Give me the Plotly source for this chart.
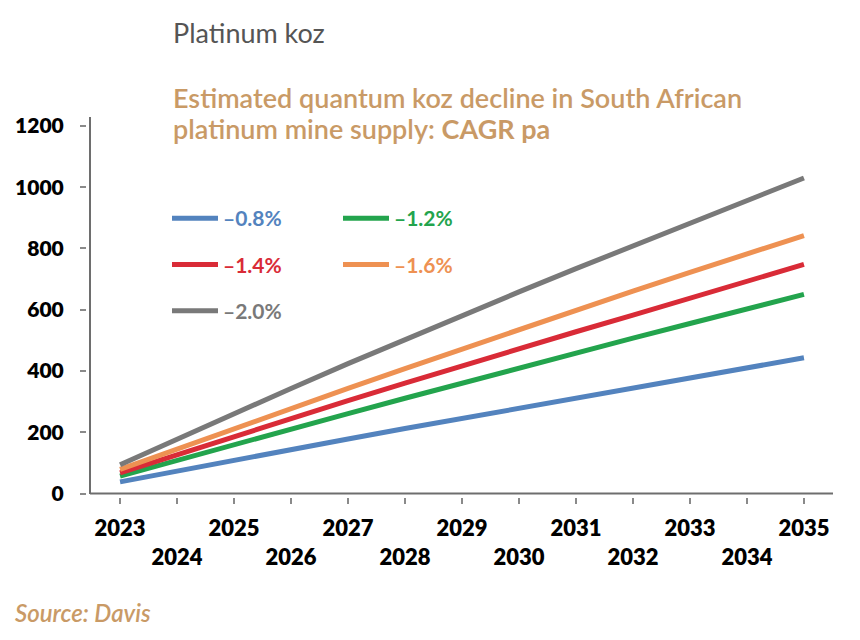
import plotly.graph_objects as go

years = [2023, 2024, 2025, 2026, 2027, 2028, 2029, 2030, 2031, 2032, 2033, 2034, 2035]
tick_labels = ["2023", "<br>2024", "2025", "<br>2026", "2027", "<br>2028", "2029",
               "<br>2030", "2031", "<br>2032", "2033", "<br>2034", "2035"]
y_ticks = [0, 200, 400, 600, 800, 1000, 1200]

series_names = ["–0.8%", "–1.2%", "–1.4%", "–1.6%", "–2.0%"]
v_08 = [38, 74, 109, 144, 178, 212, 245, 278, 311, 344, 377, 410, 443]
v_12 = [57, 109, 160, 211, 261, 311, 361, 410, 459, 507, 555, 602, 650]
v_14 = [67, 127, 186, 245, 303, 360, 417, 473, 528, 582, 636, 692, 748]
v_16 = [79, 146, 212, 278, 343, 408, 472, 536, 599, 661, 722, 782, 842]
v_20 = [94, 178, 261, 343, 424, 503, 581, 658, 734, 809, 883, 956, 1030]
series_values = [v_08, v_12, v_14, v_16, v_20]
colors = ["#5383BE", "#23A44D", "#D92B37", "#EE9152", "#797979"]
legend_of = ["legend", "legend2", "legend", "legend2", "legend"]

TAN = "#C99A66"
FONT = "Lato"

fig = go.Figure()
for name, vals, col, lg in zip(series_names, series_values, colors, legend_of):
    fig.add_trace(go.Scatter(
        x=years, y=vals, mode="lines",
        line=dict(color=col, width=5),
        name=f"<span style='color:{col}'><b>{name}</b></span>",
        legend=lg, legendgroup=name,
    ))

W, H = 860, 640
L, R, T, B = 87, 27, 117, 143
pw = W - L - R
ph = H - T - B

def px_x(p):
    return (p - L) / pw

def px_y(p):
    return (H - B - p) / ph

axis_col = "#6E6E6E"
tick_col = "#8A8A8A"

fig.update_layout(
    width=W, height=H,
    margin=dict(l=L, r=R, t=T, b=B),
    plot_bgcolor="white", paper_bgcolor="white",
    font=dict(family=FONT, color="black"),
    xaxis=dict(
        range=[2022.42, 2035.51], tickmode="array", tickvals=years, ticktext=tick_labels,
        ticks="outside", ticklen=6, tickwidth=2, tickcolor=tick_col,
        showline=False, showgrid=False, zeroline=False, ticklabelstandoff=6,
        tickfont=dict(family=FONT, size=22, color="black", weight=800),
    ),
    xaxis2=dict(
        range=[2022.42, 2035.51], overlaying="x", anchor="y", side="bottom",
        tickmode="array", tickvals=years[1::2], ticks="outside", ticklen=13,
        tickwidth=2, tickcolor=tick_col, showticklabels=False,
        showline=False, showgrid=False, zeroline=False,
    ),
    yaxis=dict(
        range=[-11.4, 1229], tickmode="array", tickvals=y_ticks,
        ticks="outside", ticklen=6, tickwidth=2, tickcolor=tick_col,
        showline=False, showgrid=False, zeroline=False,
        ticklabelstandoff=12,
        tickfont=dict(family=FONT, size=21, color="black", weight=800),
    ),
    legend=dict(
        x=px_x(167), y=px_y(198), xanchor="left", yanchor="top",
        orientation="v", itemwidth=46, tracegroupgap=16,
        font=dict(family=FONT, size=21), bgcolor="rgba(0,0,0,0)",
    ),
    legend2=dict(
        x=px_x(338), y=px_y(198), xanchor="left", yanchor="top",
        orientation="v", itemwidth=46, tracegroupgap=16,
        font=dict(family=FONT, size=21), bgcolor="rgba(0,0,0,0)",
    ),
    shapes=[
        dict(type="line", xref="paper", yref="y", x0=px_x(90), x1=px_x(833), y0=0, y1=0,
             line=dict(color=axis_col, width=2)),
        dict(type="line", xref="paper", yref="paper", x0=px_x(90), x1=px_x(90),
             y0=px_y(494), y1=1, line=dict(color=axis_col, width=2)),
    ],
    annotations=[
        dict(text="Platinum koz", xref="paper", yref="paper", x=px_x(171), y=px_y(33),
             xanchor="left", yanchor="middle", showarrow=False,
             font=dict(family=FONT, size=27, color="#555555")),
        dict(text="Estimated quantum koz decline in South African",
             xref="paper", yref="paper", x=px_x(171), y=px_y(97),
             xanchor="left", yanchor="middle", align="left", showarrow=False,
             font=dict(family=FONT, size=27, color=TAN, weight=600)),
        dict(text="platinum mine supply: <b>CAGR pa</b>",
             xref="paper", yref="paper", x=px_x(171), y=px_y(128),
             xanchor="left", yanchor="middle", align="left", showarrow=False,
             font=dict(family=FONT, size=27, color=TAN, weight=600)),
        dict(text="<i>Source: Davis</i>", xref="paper", yref="paper", x=px_x(13), y=px_y(612),
             xanchor="left", yanchor="middle", showarrow=False,
             font=dict(family=FONT, size=24, color=TAN, weight=600)),
    ],
)

fig.write_html("out.html")
